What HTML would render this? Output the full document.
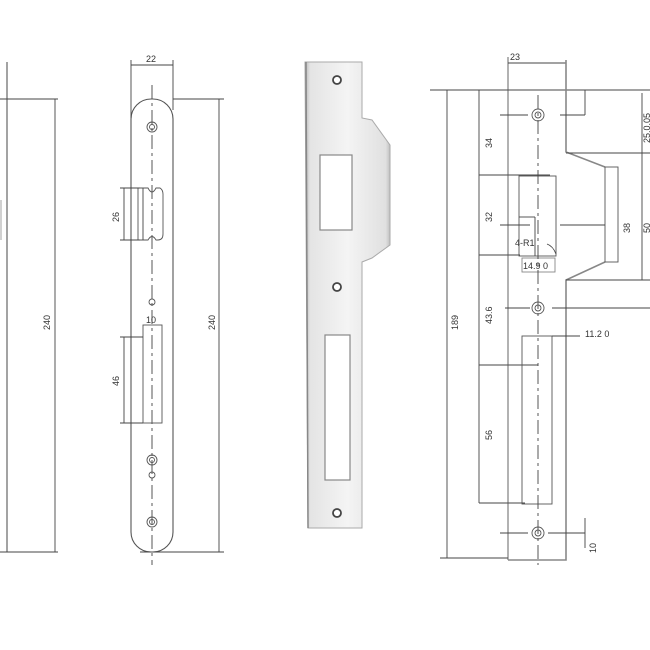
<!DOCTYPE html>
<html><head><meta charset="utf-8"><style>html,body{margin:0;padding:0;background:#fff}svg{display:block}</style></head>
<body>
<svg width="650" height="650" viewBox="0 0 650 650" xmlns="http://www.w3.org/2000/svg" font-family="Liberation Sans, sans-serif" font-size="9" fill="none" stroke="#444" stroke-width="0.9">
<defs>
<linearGradient id="g" x1="0" x2="1" y1="0" y2="0">
<stop offset="0" stop-color="#b8b8b8"/><stop offset="0.06" stop-color="#e4e4e4"/><stop offset="0.5" stop-color="#f4f4f4"/><stop offset="0.95" stop-color="#e0e0e0"/><stop offset="1" stop-color="#c0c0c0"/>
</linearGradient>
</defs>
<line x1="7" y1="62" x2="7" y2="552" stroke="#666" stroke-width="1.2"/>
<line x1="1" y1="200" x2="1" y2="240" stroke="#999"/>
<line x1="0" y1="99" x2="58" y2="99"/><line x1="0" y1="552" x2="58" y2="552"/>
<line x1="55" y1="99" x2="55" y2="552"/>
<text transform="translate(50,330) rotate(-90)" fill="#333" stroke="none">240</text>

<rect x="131" y="99" width="42" height="453" rx="20" stroke="#555" stroke-width="1.1"/>
<line x1="131" y1="60" x2="131" y2="118"/><line x1="173" y1="60" x2="173" y2="110"/>
<line x1="131" y1="65" x2="173" y2="65"/>
<text x="146" y="62" fill="#333" stroke="none">22</text>
<line x1="152" y1="85" x2="152" y2="565" stroke-dasharray="14,4,3,4"/>
<line x1="173" y1="99" x2="224" y2="99"/><line x1="140" y1="552" x2="224" y2="552"/>
<line x1="219" y1="99" x2="219" y2="552"/>
<text transform="translate(215,330) rotate(-90)" fill="#333" stroke="none">240</text>
<g stroke="#555">
<circle cx="152" cy="127" r="5"/><circle cx="152" cy="127" r="2.5"/>
<circle cx="152" cy="460" r="5"/><circle cx="152" cy="460" r="2.5"/>
<circle cx="152" cy="522" r="5"/><circle cx="152" cy="522" r="2.5"/>
<circle cx="152" cy="302" r="3"/><circle cx="152" cy="475" r="3"/>
</g>
<path d="M138 188 H148 Q152 196 156 188 H160 Q163 190 163 194 V234 Q163 240 158 240 H156 Q152 233 148 240 H138 Z" stroke="#555"/>
<line x1="143" y1="188" x2="143" y2="240"/>
<line x1="120" y1="188" x2="140" y2="188"/><line x1="120" y1="240" x2="140" y2="240"/>
<line x1="124" y1="188" x2="124" y2="240"/>
<text transform="translate(119,222) rotate(-90)" fill="#333" stroke="none">26</text>
<rect x="143" y="325" width="19" height="98" stroke="#555"/>
<text x="146" y="323" fill="#333" stroke="none">10</text>
<line x1="120" y1="337" x2="143" y2="337"/><line x1="120" y1="423" x2="143" y2="423"/>
<line x1="124" y1="337" x2="124" y2="423"/>
<text transform="translate(119,386) rotate(-90)" fill="#333" stroke="none">46</text>

<path d="M305 62 H362 V118 L372 120 L390 145 V245 L372 258 L362 262 V528 H308 Z" fill="url(#g)" stroke="#aaa" stroke-width="1"/>
<line x1="306" y1="62" x2="308" y2="528" stroke="#888" stroke-width="1.5"/>
<rect x="320" y="155" width="32" height="75" fill="#fff" stroke="#888" stroke-width="1.2"/>
<rect x="325" y="335" width="25" height="145" fill="#fff" stroke="#888" stroke-width="1.2"/>
<g fill="#fff" stroke="#444" stroke-width="1.8"><circle cx="337" cy="80" r="4"/><circle cx="337" cy="287" r="4"/><circle cx="337" cy="513" r="4"/></g>

<line x1="430" y1="90" x2="650" y2="90"/>
<line x1="440" y1="558" x2="508" y2="558"/>
<line x1="447" y1="90" x2="447" y2="558"/>
<text transform="translate(458,330) rotate(-90)" fill="#333" stroke="none">189</text>
<line x1="479" y1="90" x2="479" y2="503"/>
<line x1="479" y1="175" x2="550" y2="175"/><line x1="479" y1="255" x2="520" y2="255"/><line x1="479" y1="365" x2="538" y2="365"/><line x1="479" y1="503" x2="525" y2="503"/>
<g fill="#333" stroke="none">
<text transform="translate(492,148) rotate(-90)">34</text>
<text transform="translate(492,222) rotate(-90)">32</text>
<text transform="translate(492,324) rotate(-90)">43.6</text>
<text transform="translate(492,440) rotate(-90)">56</text>
<text transform="translate(630,233) rotate(-90)">38</text>
<text transform="translate(650,233) rotate(-90)">50</text>
<text transform="translate(650,143) rotate(-90)">25.0.05</text>
<text transform="translate(596,553) rotate(-90)">10</text>
<text x="510" y="60">23</text>
<text x="585" y="337">11.2 0</text>
<text x="523" y="269">14.9 0</text>
<text x="515" y="246">4-R1</text>
</g>
<line x1="508" y1="57" x2="508" y2="560" stroke="#555"/>
<line x1="508" y1="63" x2="566" y2="63"/>
<path d="M566 60 V152 L605 167 M605 262 L566 280 V560 H508" stroke="#888" stroke-width="1.6"/>
<rect x="605" y="167" width="13" height="95" stroke="#555"/>
<line x1="566" y1="153" x2="650" y2="153"/><line x1="566" y1="280" x2="650" y2="280"/>
<line x1="642" y1="93" x2="642" y2="280"/>
<line x1="585" y1="90" x2="585" y2="115"/><line x1="560" y1="115" x2="585" y2="115"/>
<rect x="519" y="176" width="37" height="80" stroke="#555"/>
<line x1="519" y1="217" x2="535" y2="217"/><line x1="535" y1="217" x2="535" y2="256"/>
<rect x="522" y="258" width="33" height="14" stroke="#888"/>
<path d="M547 244 Q553 246 556 254"/>
<rect x="522" y="336" width="30" height="168" stroke="#555"/>
<line x1="552" y1="336" x2="580" y2="336"/>
<line x1="538" y1="95" x2="538" y2="565" stroke-dasharray="14,4,3,4"/>
<line x1="500" y1="225" x2="530" y2="225"/><line x1="560" y1="225" x2="605" y2="225"/>
<line x1="505" y1="308" x2="530" y2="308"/><line x1="552" y1="308" x2="650" y2="308"/>
<line x1="500" y1="115" x2="528" y2="115"/>
<line x1="500" y1="533" x2="528" y2="533"/><line x1="548" y1="533" x2="585" y2="533"/>
<line x1="585" y1="518" x2="585" y2="548"/>
<g stroke="#555">
<circle cx="538" cy="115" r="6"/><circle cx="538" cy="115" r="3"/>
<circle cx="538" cy="308" r="6"/><circle cx="538" cy="308" r="3"/>
<circle cx="538" cy="533" r="6"/><circle cx="538" cy="533" r="3"/>
</g>
</svg>
</body></html>
